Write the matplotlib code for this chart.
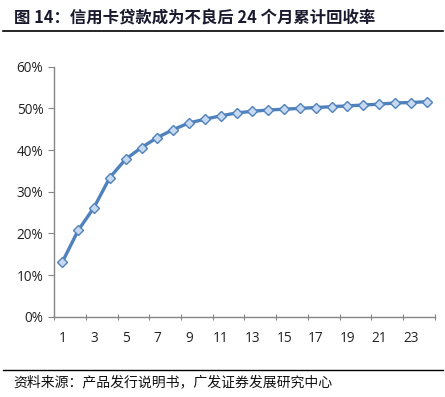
import matplotlib
matplotlib.use("Agg")
import matplotlib.pyplot as plt
from matplotlib.lines import Line2D
from matplotlib.ticker import FixedLocator, PercentFormatter

plt.rcParams["font.family"] = ["Noto Sans CJK SC", "DejaVu Sans"]

# months after default and cumulative recovery rate (%)
months = list(range(1, 25))
recovery = [13.1, 20.7, 26.2, 33.4, 37.8, 40.6, 43.0, 44.9, 46.5, 47.4, 48.2, 48.9,
            49.3, 49.6, 49.8, 50.0, 50.2, 50.4, 50.6, 50.8, 51.0, 51.3, 51.4, 51.6]
y_ticks = [0, 10, 20, 30, 40, 50, 60]
x_labels = [str(m) for m in months if m % 2 == 1]

title = "图 14：信用卡贷款成为不良后 24 个月累计回收率"
source = "资料来源：产品发行说明书，广发证券发展研究中心"

fig = plt.figure(figsize=(4.45, 3.97), dpi=100)
ax = fig.add_axes([0.1222, 0.2023, 0.8544, 0.6297])

ax.plot(months, recovery, color="#4f81bd", linewidth=2.4,
        marker="D", markersize=5, markerfacecolor="#c6d9f1",
        markeredgecolor="#4f81bd", markeredgewidth=1.0, zorder=3)

ax.set_xlim(0.5, 24.5)
ax.set_ylim(0, 60)
ax.set_yticks(y_ticks)
ax.yaxis.set_major_formatter(PercentFormatter(decimals=0))

# category axis: tick marks between every two categories, labels on odd months
ax.xaxis.set_major_locator(FixedLocator([0.5 + 2 * k for k in range(13)]))
ax.xaxis.set_minor_locator(FixedLocator([m for m in months if m % 2 == 1]))
ax.set_xticklabels([], minor=False)
ax.set_xticklabels(x_labels, minor=True)
ax.tick_params(axis="x", which="major", length=4, color="#868686", direction="inout")
ax.tick_params(axis="x", which="minor", length=0, pad=10)
ax.tick_params(axis="y", length=4, color="#868686", direction="out", pad=4)

for lbl in ax.get_xticklabels(minor=True) + ax.get_yticklabels():
    lbl.set_family(["Open Sans", "DejaVu Sans"])
    lbl.set_fontsize(9.8)
    lbl.set_color("#222222")

for side in ["top", "right"]:
    ax.spines[side].set_visible(False)
for side in ["left", "bottom"]:
    ax.spines[side].set_color("#868686")
    ax.spines[side].set_linewidth(1.0)

# title and source with rules
fig.text(0.031, 1 - 18 / 397, title, fontsize=11.8, fontweight="bold",
         color="#1a1a2e", va="center", ha="left")
fig.add_artist(Line2D([3 / 445, 443 / 445], [1 - 31 / 397, 1 - 31 / 397],
                      color="black", linewidth=1.2))
fig.add_artist(Line2D([3 / 445, 443 / 445], [1 - 370 / 397, 1 - 370 / 397],
                      color="black", linewidth=1.0))
fig.text(0.031, 1 - 382 / 397, source, fontsize=10, color="#111111",
         va="center", ha="left")

fig.savefig("out.png", dpi=100)
